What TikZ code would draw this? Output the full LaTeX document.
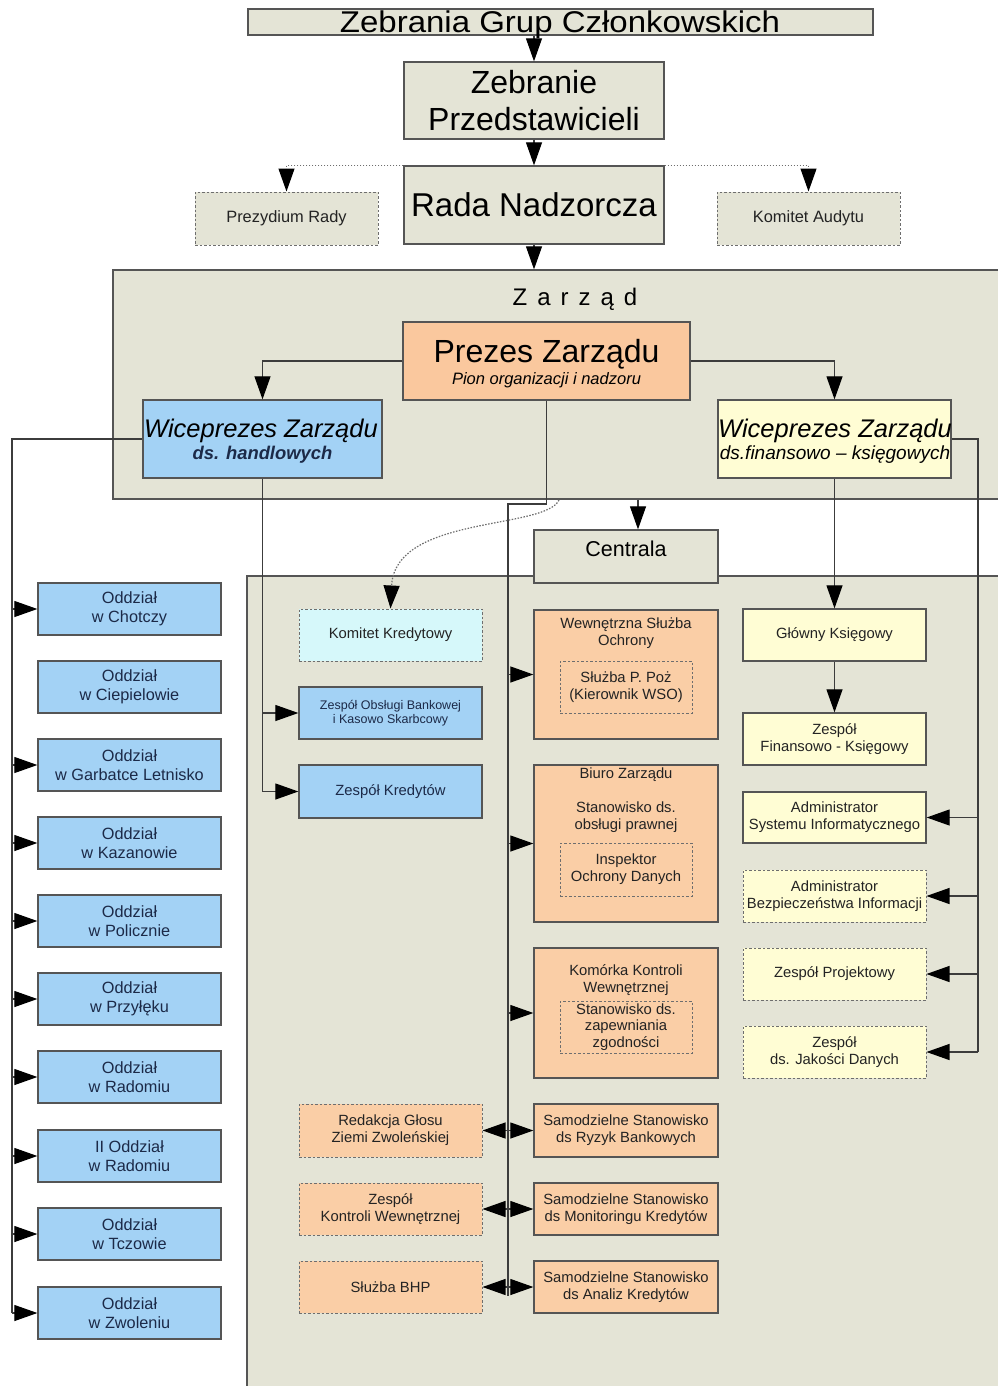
\documentclass[tikz,border=0pt]{standalone}
\usepackage{fontspec}
\setmainfont{Liberation Sans}
\usetikzlibrary{arrows.meta}
\definecolor{greyf}{RGB}{228,228,214}
\definecolor{orangef}{RGB}{250,206,166}
\definecolor{prezf}{RGB}{250,200,158}
\definecolor{bluef}{RGB}{163,210,245}
\definecolor{yellowf}{RGB}{255,253,212}
\definecolor{cyanf}{RGB}{214,248,250}
\definecolor{bordc}{RGB}{85,85,85}
\definecolor{dashc}{RGB}{110,110,110}
\definecolor{linec}{RGB}{60,60,60}
\definecolor{txtc}{RGB}{35,35,35}
\definecolor{navyc}{RGB}{28,42,72}
\newcommand\myfs{\fontsize{14.8}{17}\selectfont}
\newcommand\bx[7]{\node[#2, minimum width={#5-#3}, minimum height={#6-#4}] (#1) at ({(#3+#5)/2},{(#4+#6)/2}) {#7};}
\tikzset{
  boxbase/.style={draw=bordc, line width=1.3pt, inner sep=0pt, align=center, text=txtc, font=\myfs},
  gr/.style={boxbase, fill=greyf},
  orb/.style={boxbase, fill=orangef},
  blb/.style={boxbase, fill=bluef, text=navyc},
  ylb/.style={boxbase, fill=yellowf},
  dsh/.style={draw=dashc, line width=1pt, dash pattern=on 2.5pt off 2pt},
  ln/.style={draw=linec, line width=1.1pt},
  arr/.style={ln, -{Triangle[length=23pt,width=16pt,color=black]}},
  dotarr/.style={draw=dashc, line width=1.2pt, dash pattern=on 1.5pt off 1.5pt, -{Triangle[length=23pt,width=16pt,color=black]}},
  tl/.style={anchor=base, inner sep=0pt, text=black}
}
\begin{document}
\begin{tikzpicture}[x=1pt,y=-1pt]
\useasboundingbox (0,0) rectangle (997,1386);
\fill[white] (0,0) rectangle (997,1386);
% regions
\bx{zarzad}{gr}{113}{270}{1005}{499}{}
\bx{creg}{gr}{247}{576}{1005}{1395}{}
% top
\bx{zgc}{gr}{248}{9}{873}{35}{}
\node[tl, font=\fontsize{30}{34}\selectfont] (zgcT) at (560,33) {\scalebox{1.1}[1]{Zebrania Grup Członkowskich}};
\bx{zp}{gr, text=black, font=\fontsize{32}{37}\selectfont}{404}{62}{664}{139}{Zebranie\\Przedstawicieli}
\bx{rada}{gr, text=black, font=\fontsize{33}{37}\selectfont}{404}{166}{664}{244}{Rada Nadzorcza}
\bx{prez}{gr, dsh, font=\fontsize{16.4}{19}\selectfont}{195}{192}{378}{245}{Prezydium Rady}
\bx{kaud}{gr, dsh, font=\fontsize{16.4}{19}\selectfont}{717}{192}{900}{245}{Komitet Audytu}
% Zarzad
\node[tl, font=\fontsize{24}{28}\selectfont] (zarzadT) at (575,305) {Z\kern10pt a\kern10pt r\kern10pt z\kern10pt ą\kern10pt d};
\bx{prezes}{boxbase, fill=prezf}{403}{322}{690}{400}{}
\node[tl, font=\fontsize{32}{36}\selectfont] (prezesT) at (546.5,362) {Prezes Zarządu};
\node[tl, font=\fontsize{16.5}{19}\selectfont\itshape] (prezesS) at (546.5,384) {Pion organizacji i nadzoru};
\bx{wh}{blb}{143}{400}{382}{478}{}
\node[tl, font=\fontsize{25.5}{29}\selectfont\itshape] (whT) at (261,437) {Wiceprezes Zarządu};
\node[tl, font=\fontsize{18.4}{21}\selectfont\bfseries\itshape, text=navyc] (whS) at (262.5,459) {ds. handlowych};
\bx{wf}{ylb}{718}{400}{951}{478}{}
\node[tl, font=\fontsize{25.5}{29}\selectfont\itshape] (wfT) at (835,437) {Wiceprezes Zarządu};
\node[tl, font=\fontsize{19}{22}\selectfont\itshape] (wfS) at (835,459) {ds.finansowo – księgowych};
% Centrala
\bx{cent}{gr}{534}{530}{718}{583}{}
\node[tl, font=\fontsize{21.5}{25}\selectfont] (centT) at (626,556) {Centrala};
% middle-left column
\bx{kk}{boxbase, fill=cyanf, dsh}{299}{609}{482}{661}{Komitet Kredytowy}
\bx{zob}{blb, font=\fontsize{12.5}{13.5}\selectfont}{299}{687}{482}{739}{Zespół Obsługi Bankowej\\i Kasowo Skarbcowy}
\bx{zk}{blb}{299}{765}{482}{818}{Zespół Kredytów}
% orange column
\bx{wso}{orb}{534}{610}{718}{739}{}
\node[boxbase, draw=none, fill=none] (wsoT) at (626,633.6) {Wewnętrzna Służba\\Ochrony};
\bx{wsoin}{orb, dsh}{560}{661}{692}{713}{Służba P. Poż\\(Kierownik WSO)}
\bx{biuro}{orb}{534}{765}{718}{922}{}
\node[tl, font=\myfs, text=txtc] (biuroT) at (626,778.5) {Biuro Zarządu};
\node[boxbase, draw=none, fill=none] (biuroS) at (626,817) {Stanowisko ds.\\obsługi prawnej};
\bx{biuroin}{orb, dsh}{560}{843}{692}{896}{Inspektor\\Ochrony Danych}
\bx{kom}{orb}{534}{948}{718}{1078}{}
\node[boxbase, draw=none, fill=none] (komT) at (626,980) {Komórka Kontroli\\Wewnętrznej};
\bx{komin}{orb, dsh, font=\fontsize{14.8}{16.5}\selectfont}{560}{1001}{692}{1053}{Stanowisko ds.\\zapewniania\\zgodności}
\bx{red}{orb, dsh}{299}{1104}{482}{1157}{Redakcja Głosu\\Ziemi Zwoleńskiej}
\bx{zkw}{orb, dsh}{299}{1183}{482}{1235}{Zespół\\Kontroli Wewnętrznej}
\bx{bhp}{orb, dsh}{299}{1261}{482}{1313}{Służba BHP}
\bx{ryz}{orb}{534}{1104}{718}{1157}{Samodzielne Stanowisko\\ds Ryzyk Bankowych}
\bx{mon}{orb}{534}{1183}{718}{1235}{Samodzielne Stanowisko\\ds Monitoringu Kredytów}
\bx{ana}{orb}{534}{1261}{718}{1313}{Samodzielne Stanowisko\\ds Analiz Kredytów}
% right column
\bx{gk}{ylb}{743}{609}{926}{661}{Główny Księgowy}
\bx{zfk}{ylb}{743}{713}{926}{765}{Zespół\\Finansowo - Księgowy}
\bx{asi}{ylb}{743}{792}{926}{843}{Administrator\\Systemu Informatycznego}
\bx{abi}{ylb, dsh}{743}{870}{926}{922}{Administrator\\Bezpieczeństwa Informacji}
\bx{zpr}{ylb, dsh}{743}{948}{926}{1000}{Zespół Projektowy}
\bx{zjd}{ylb, dsh}{743}{1026}{926}{1078}{Zespół\\ds. Jakości Danych}
% branches
\tikzset{odd/.style={blb, font=\fontsize{16.3}{19}\selectfont}}
\bx{o1}{odd}{38}{583}{221}{635}{Oddział\\w Chotczy}
\bx{o2}{odd}{38}{661}{221}{713}{Oddział\\w Ciepielowie}
\bx{o3}{odd}{38}{739}{221}{791}{Oddział\\w Garbatce Letnisko}
\bx{o4}{odd}{38}{817}{221}{869}{Oddział\\w Kazanowie}
\bx{o5}{odd}{38}{895}{221}{947}{Oddział\\w Policznie}
\bx{o6}{odd}{38}{973}{221}{1025}{Oddział\\w Przyłęku}
\bx{o7}{odd}{38}{1051}{221}{1103}{Oddział\\w Radomiu}
\bx{o8}{odd}{38}{1130}{221}{1182}{II Oddział\\w Radomiu}
\bx{o9}{odd}{38}{1208}{221}{1260}{Oddział\\w Tczowie}
\bx{o10}{odd}{38}{1287}{221}{1339}{Oddział\\w Zwoleniu}
% connectors
\draw[arr] (zgc.south -| zp.north) -- (zp.north);
\draw[arr] (zp.south) -- (rada.north);
\draw[arr] (rada.south) -- (rada.south |- zarzad.north);
\draw[dotarr] (rada.north west) -| (prez.north);
\draw[dotarr] (rada.north east) -| (kaud.north);
\draw[arr] (prezes.west) -| (wh.north);
\draw[arr] (prezes.east) -| (wf.north);
\coordinate (pa) at (508,504);
\coordinate (pe) at (508,1296);
\draw[ln] (prezes.south) |- (pa) -- (pe);
\foreach \n in {wso,biuro,kom,ryz,mon,ana} \draw[arr] (\n.west -| pa) -- (\n.west);
\foreach \n in {red,zkw,bhp} \draw[arr] (\n.east -| pa) -- (\n.east);
\coordinate (cx) at (638,0);
\draw[arr] (zarzad.south -| cx) -- (cent.north -| cx);
\coordinate (dstart) at (559,500);
\draw[dotarr] (dstart) .. controls (545,530) and (395,515) .. (kk.north);
\draw[arr] (wh.south) |- (zk.west);
\draw[arr] (zob.west -| wh.south) -- (zob.west);
\draw[arr] (wf.south) -- (gk.north);
\draw[arr] (gk.south) -- (zfk.north);
\coordinate (rb) at (978,1052);
\draw[ln] (wf.east) -| (rb);
\foreach \n in {asi,abi,zpr,zjd} \draw[arr] (\n.east -| rb) -- (\n.east);
\coordinate (lb) at (12,1313);
\draw[ln] (wh.west) -| (lb);
\foreach \n in {o1,o3,o4,o5,o6,o7,o8,o9,o10} \draw[arr] (\n.west -| lb) -- (\n.west);
\end{tikzpicture}
\end{document}
